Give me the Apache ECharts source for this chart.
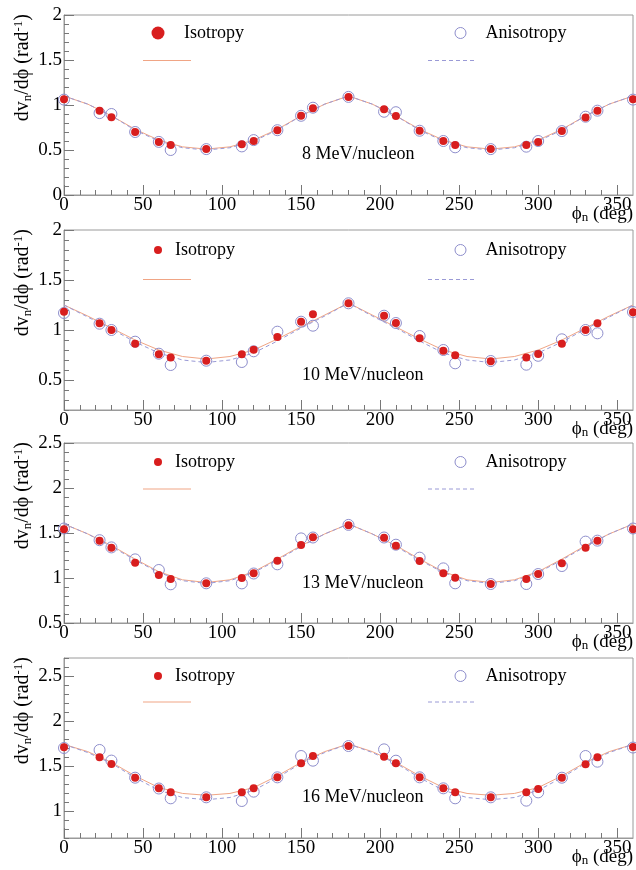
<!DOCTYPE html>
<html>
<head>
<meta charset="utf-8">
<script src="https://cdn.jsdelivr.net/npm/echarts@6/dist/echarts.min.js"></script>
<style>
  html, body { margin: 0; padding: 0; background: #ffffff; }
  #chart { width: 636px; height: 870px; }
</style>
</head>
<body>
<div id="chart"></div>
<script>
// Emission angle of the measured points (deg)
const phi = [0, 22.5, 30, 45, 60, 67.5, 90, 112.5, 120, 135, 150, 157.5, 180,
             202.5, 210, 225, 240, 247.5, 270, 292.5, 300, 315, 330, 337.5, 360];
// Angles at which the fitted curves are tabulated (deg)
const fitPhi = [0, 15, 30, 45, 60, 75, 90, 105, 120, 135, 150, 165, 180,
                195, 210, 225, 240, 255, 270, 285, 300, 315, 330, 345, 360];

// 8 MeV/nucleon
const iso8 = [1.063, 0.937, 0.863, 0.70, 0.59, 0.555, 0.51, 0.563, 0.60, 0.72, 0.88, 0.963, 1.09,
              0.952, 0.878, 0.714, 0.60, 0.555, 0.51, 0.555, 0.59, 0.71, 0.86, 0.937, 1.063];
const aniso8 = [1.06, 0.91, 0.90, 0.70, 0.59, 0.50, 0.51, 0.54, 0.61, 0.72, 0.88, 0.97, 1.09,
                0.925, 0.92, 0.714, 0.60, 0.53, 0.51, 0.537, 0.60, 0.71, 0.87, 0.937, 1.06];
const isoFit8 = [1.10, 1.01, 0.88, 0.73, 0.61, 0.535, 0.51, 0.535, 0.61, 0.73, 0.88, 1.01, 1.10,
                 1.01, 0.88, 0.73, 0.61, 0.535, 0.51, 0.535, 0.61, 0.73, 0.88, 1.01, 1.10];
const anisoFit8 = [1.10, 1.01, 0.88, 0.72, 0.60, 0.525, 0.50, 0.525, 0.60, 0.72, 0.88, 1.01, 1.10,
                   1.01, 0.88, 0.72, 0.60, 0.525, 0.50, 0.525, 0.60, 0.72, 0.88, 1.01, 1.10];

// 10 MeV/nucleon
const iso10 = [1.183, 1.067, 1.00, 0.863, 0.758, 0.725, 0.693, 0.757, 0.803, 0.93, 1.083, 1.157, 1.267,
               1.143, 1.07, 0.917, 0.793, 0.748, 0.688, 0.725, 0.76, 0.863, 1.00, 1.067, 1.177];
const aniso10 = [1.17, 1.063, 1.00, 0.883, 0.763, 0.65, 0.693, 0.68, 0.787, 0.983, 1.083, 1.043, 1.267,
                 1.143, 1.07, 0.94, 0.80, 0.667, 0.69, 0.653, 0.742, 0.907, 1.00, 0.967, 1.18];
const isoFit10 = [1.25, 1.14, 1.02, 0.90, 0.80, 0.735, 0.71, 0.735, 0.80, 0.91, 1.03, 1.15, 1.27,
                  1.15, 1.03, 0.91, 0.80, 0.735, 0.71, 0.735, 0.80, 0.90, 1.02, 1.14, 1.25];
const anisoFit10 = [1.25, 1.13, 1.01, 0.88, 0.77, 0.70, 0.675, 0.70, 0.77, 0.89, 1.02, 1.14, 1.27,
                    1.14, 1.02, 0.89, 0.77, 0.70, 0.675, 0.70, 0.77, 0.88, 1.01, 1.13, 1.25];

// 13 MeV/nucleon
const iso13 = [1.541, 1.415, 1.337, 1.17, 1.033, 0.989, 0.941, 1.00, 1.052, 1.193, 1.367, 1.452, 1.585,
               1.448, 1.359, 1.189, 1.052, 1.004, 0.933, 0.989, 1.044, 1.163, 1.337, 1.415, 1.541];
const aniso13 = [1.55, 1.42, 1.34, 1.207, 1.089, 0.93, 0.941, 0.94, 1.05, 1.152, 1.44, 1.45, 1.59,
                 1.45, 1.37, 1.226, 1.107, 0.941, 0.933, 0.933, 1.044, 1.133, 1.404, 1.415, 1.55];
const isoFit13 = [1.60, 1.49, 1.36, 1.21, 1.07, 0.98, 0.95, 0.98, 1.07, 1.21, 1.36, 1.49, 1.60,
                  1.49, 1.36, 1.21, 1.07, 0.98, 0.95, 0.98, 1.07, 1.21, 1.36, 1.49, 1.60];
const anisoFit13 = [1.60, 1.49, 1.35, 1.20, 1.06, 0.97, 0.94, 0.97, 1.06, 1.20, 1.35, 1.49, 1.60,
                    1.49, 1.35, 1.20, 1.06, 0.97, 0.94, 0.97, 1.06, 1.20, 1.35, 1.49, 1.60];

// 16 MeV/nucleon
const iso16 = [1.707, 1.596, 1.522, 1.37, 1.252, 1.207, 1.152, 1.207, 1.252, 1.374, 1.53, 1.611, 1.722,
               1.604, 1.53, 1.374, 1.252, 1.207, 1.152, 1.207, 1.244, 1.37, 1.519, 1.596, 1.712];
const aniso16 = [1.70, 1.678, 1.56, 1.37, 1.25, 1.141, 1.152, 1.111, 1.215, 1.374, 1.611, 1.559, 1.722,
                 1.685, 1.559, 1.374, 1.252, 1.141, 1.152, 1.115, 1.207, 1.37, 1.611, 1.548, 1.705];
const isoFit16 = [1.74, 1.66, 1.54, 1.39, 1.26, 1.195, 1.175, 1.195, 1.26, 1.39, 1.54, 1.66, 1.745,
                  1.66, 1.54, 1.39, 1.26, 1.195, 1.175, 1.195, 1.26, 1.39, 1.54, 1.66, 1.74];
const anisoFit16 = [1.74, 1.65, 1.53, 1.37, 1.23, 1.15, 1.125, 1.15, 1.23, 1.37, 1.53, 1.65, 1.745,
                    1.65, 1.53, 1.37, 1.23, 1.15, 1.125, 1.15, 1.23, 1.37, 1.53, 1.65, 1.74];

const energyLabels = ['8 MeV/nucleon', '10 MeV/nucleon', '13 MeV/nucleon', '16 MeV/nucleon'];
const xTickLabels = [0, 50, 100, 150, 200, 250, 300, 350];
const yRanges = [[0, 2], [0.2, 2], [0.5, 2.5], [0.7, 2.7]];
const yTickLabels = [[0, 0.5, 1, 1.5, 2], [0.5, 1, 1.5, 2], [0.5, 1, 1.5, 2, 2.5], [1, 1.5, 2, 2.5]];

const panels = [
  { iso: iso8, aniso: aniso8, isoFit: isoFit8, anisoFit: anisoFit8 },
  { iso: iso10, aniso: aniso10, isoFit: isoFit10, anisoFit: anisoFit10 },
  { iso: iso13, aniso: aniso13, isoFit: isoFit13, anisoFit: anisoFit13 },
  { iso: iso16, aniso: aniso16, isoFit: isoFit16, anisoFit: anisoFit16 }
];

// ---- layout & style ----
const FONT = '"Liberation Serif", "Times New Roman", serif';
const ISO_COLOR = '#d81e1e';
const ANISO_COLOR = '#8e8ecc';
const ISO_LINE = '#f0a585';
const ANISO_LINE = '#9a9ad6';
const FRAME = '#9a9a9a';
const TICK = '#777777';

const PLOT_LEFT = 64, PLOT_RIGHT = 633, PLOT_H = 180;
const panelTop = [15, 230, 443, 658];
const legendMarkY = [33, 250, 462, 676];
const legendLineY = [60.5, 279.5, 489, 702];
const energyLabelY = [154, 375, 583, 797];
const isoMarkSize = [13, 8, 8, 8];
const isoTextX = [184, 175, 175, 175];

const pair = (xs, ys) => xs.map((x, k) => [x, ys[k]]);
const round1 = v => Math.round(v * 10) / 10;

const xMinor = [];
for (let v = 10; v < 360; v += 10) if (v % 50 !== 0) xMinor.push(v);

const grids = [], xAxes = [], yAxes = [], series = [], legends = [], graphics = [];

panels.forEach((p, i) => {
  const [yMin, yMax] = yRanges[i];
  const yMinor = [];
  for (let k = Math.round(yMin * 10); k <= Math.round(yMax * 10); k++) {
    if (k % 5 !== 0) yMinor.push(round1(k / 10));
  }

  grids.push({
    left: PLOT_LEFT, top: panelTop[i], width: PLOT_RIGHT - PLOT_LEFT, height: PLOT_H,
    show: true, borderColor: FRAME, borderWidth: 1, backgroundColor: 'transparent',
    containLabel: false, outerBoundsMode: 'none'
  });

  // major x ticks with labels
  xAxes.push({
    gridIndex: i, type: 'value', position: 'bottom', min: 0, max: 360,
    axisLine: { show: true, onZero: false, lineStyle: { color: FRAME, width: 1 } },
    axisTick: { show: true, inside: true, length: 10, customValues: xTickLabels, lineStyle: { color: TICK } },
    axisLabel: { show: true, customValues: xTickLabels, margin: 1, color: '#000', fontFamily: FONT, fontSize: 19,
                 formatter: v => (v % 50 === 0 && v < 360 ? String(v) : '') },
    splitLine: { show: false }
  });
  // minor x ticks
  xAxes.push({
    gridIndex: i, type: 'value', position: 'bottom', min: 0, max: 360,
    axisLine: { show: false, onZero: false },
    axisTick: { show: true, inside: true, length: 5, customValues: xMinor, lineStyle: { color: TICK } },
    axisLabel: { show: false }, splitLine: { show: false }
  });
  // major y ticks with labels
  yAxes.push({
    gridIndex: i, type: 'value', position: 'left', min: yMin, max: yMax,
    axisLine: { show: true, onZero: false, lineStyle: { color: FRAME, width: 1 } },
    axisTick: { show: true, inside: true, length: 10, customValues: yTickLabels[i], lineStyle: { color: TICK } },
    axisLabel: { show: true, customValues: yTickLabels[i], margin: 2, color: '#000', fontFamily: FONT, fontSize: 19 },
    splitLine: { show: false }
  });
  // minor y ticks
  yAxes.push({
    gridIndex: i, type: 'value', position: 'left', min: yMin, max: yMax,
    axisLine: { show: false, onZero: false },
    axisTick: { show: true, inside: true, length: 5, customValues: yMinor, lineStyle: { color: TICK } },
    axisLabel: { show: false }, splitLine: { show: false }
  });

  const xi = 2 * i, yi = 2 * i;
  series.push({
    type: 'line', name: 'Isotropy fit', xAxisIndex: xi, yAxisIndex: yi,
    data: pair(fitPhi, p.isoFit), symbol: 'none', showSymbol: false, silent: true,
    lineStyle: { color: ISO_LINE, width: 1 }, z: 2
  });
  series.push({
    type: 'line', name: 'Anisotropy fit', xAxisIndex: xi, yAxisIndex: yi,
    data: pair(fitPhi, p.anisoFit), symbol: 'none', showSymbol: false, silent: true,
    lineStyle: { color: ANISO_LINE, width: 1, type: [4, 3] }, z: 2
  });
  series.push({
    type: 'scatter', name: 'Anisotropy', xAxisIndex: xi, yAxisIndex: yi,
    data: pair(phi, p.aniso), symbol: 'circle', symbolSize: 11, silent: true,
    itemStyle: { color: 'rgba(255,255,255,0)', borderColor: ANISO_COLOR, borderWidth: 1, opacity: 1 }, z: 3
  });
  series.push({
    type: 'scatter', name: 'Isotropy', xAxisIndex: xi, yAxisIndex: yi,
    data: pair(phi, p.iso), symbol: 'circle', symbolSize: 8, silent: true,
    itemStyle: { color: ISO_COLOR, opacity: 1 }, z: 4
  });

  // legend rows: marker + label
  const isz = isoMarkSize[i];
  legends.push({
    left: 158 - isz / 2, top: legendMarkY[i] - 10, padding: 0, orient: 'horizontal',
    itemWidth: isz, itemHeight: isz, selectedMode: false,
    data: [{ name: 'Isotropy', icon: 'circle', itemStyle: { color: ISO_COLOR, borderWidth: 0, opacity: 1 } }],
    textStyle: { fontFamily: FONT, fontSize: 18, color: '#000', lineHeight: 20,
                 padding: [0, 0, 0, isoTextX[i] - (158 - isz / 2) - isz - 5] }
  });
  legends.push({
    left: 460 - 5.5, top: legendMarkY[i] - 10, padding: 0, orient: 'horizontal',
    itemWidth: 11, itemHeight: 11, selectedMode: false,
    data: [{ name: 'Anisotropy', icon: 'circle',
             itemStyle: { color: '#ffffff', borderColor: ANISO_COLOR, borderWidth: 1, opacity: 1 } }],
    textStyle: { fontFamily: FONT, fontSize: 18, color: '#000', lineHeight: 20,
                 padding: [0, 0, 0, 485 - 454.5 - 11 - 5] }
  });

  // legend rows: line samples
  graphics.push({
    type: 'line', silent: true,
    shape: { x1: 143, y1: legendLineY[i], x2: 191, y2: legendLineY[i] },
    style: { stroke: ISO_LINE, lineWidth: 1 }
  });
  graphics.push({
    type: 'line', silent: true,
    shape: { x1: 428, y1: legendLineY[i], x2: 476, y2: legendLineY[i] },
    style: { stroke: ANISO_LINE, lineWidth: 1, lineDash: [4, 3] }
  });

  // beam energy label
  graphics.push({
    type: 'text', silent: true, x: 302, y: energyLabelY[i],
    style: { text: energyLabels[i], fontFamily: FONT, fontSize: 18, fill: '#000',
             align: 'left', verticalAlign: 'middle' }
  });

  // y axis title
  graphics.push({
    type: 'text', silent: true, x: 23, y: panelTop[i] - 1, rotation: Math.PI / 2,
    style: {
      text: '{m|dv}{s|n}{m|/dϕ (rad}{p|-1}{m|)}',
      align: 'right', verticalAlign: 'middle', fill: '#000',
      rich: {
        m: { fontFamily: FONT, fontSize: 20, lineHeight: 22, fill: '#000' },
        s: { fontFamily: FONT, fontSize: 13, lineHeight: 10, verticalAlign: 'bottom', fill: '#000' },
        p: { fontFamily: FONT, fontSize: 13, lineHeight: 10, verticalAlign: 'top', fill: '#000' }
      }
    }
  });

  // x axis title
  graphics.push({
    type: 'text', silent: true, x: 633, y: panelTop[i] + PLOT_H + 19,
    style: {
      text: '{m|ϕ}{s|n}{m| (deg)}',
      align: 'right', verticalAlign: 'middle', fill: '#000',
      rich: {
        m: { fontFamily: FONT, fontSize: 19, lineHeight: 21, fill: '#000' },
        s: { fontFamily: FONT, fontSize: 13, lineHeight: 10, verticalAlign: 'bottom', fill: '#000' }
      }
    }
  });
});

const chart = echarts.init(document.getElementById('chart'), null, { renderer: 'canvas' });
chart.setOption({
  animation: false,
  backgroundColor: '#ffffff',
  grid: grids,
  xAxis: xAxes,
  yAxis: yAxes,
  legend: legends,
  series: series,
  graphic: graphics
});
</script>
</body>
</html>
